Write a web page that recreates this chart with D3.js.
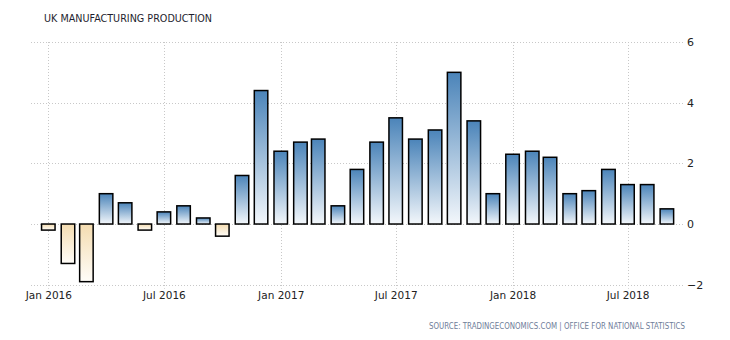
<!DOCTYPE html>
<html>
<head>
<meta charset="utf-8">
<script src="https://cdn.jsdelivr.net/npm/d3@7"></script>
<style>
  html, body { margin: 0; padding: 0; background: #fff; }
  svg { display: block; }
</style>
</head>
<body>
<svg id="chart" width="730" height="340"></svg>
<script>
// Monthly year-on-year change in UK manufacturing output (%)
const months = [
  "2016-01","2016-02","2016-03","2016-04","2016-05","2016-06",
  "2016-07","2016-08","2016-09","2016-10","2016-11","2016-12",
  "2017-01","2017-02","2017-03","2017-04","2017-05","2017-06",
  "2017-07","2017-08","2017-09","2017-10","2017-11","2017-12",
  "2018-01","2018-02","2018-03","2018-04","2018-05","2018-06",
  "2018-07","2018-08","2018-09"
];
const values = [
  -0.2, -1.3, -1.9, 1.0, 0.7, -0.2,
   0.4,  0.6,  0.2, -0.4, 1.6, 4.4,
   2.4,  2.7,  2.8, 0.6, 1.8, 2.7,
   3.5,  2.8,  3.1, 5.0, 3.4, 1.0,
   2.3,  2.4,  2.2, 1.0, 1.1, 1.8,
   1.3,  1.3,  0.5
];
const xTickLabels = ["Jan 2016","Jul 2016","Jan 2017","Jul 2017","Jan 2018","Jul 2018"];
const yTicks = [-2, 0, 2, 4, 6];
const title = "UK MANUFACTURING PRODUCTION";
const source = "SOURCE: TRADINGECONOMICS.COM | OFFICE FOR NATIONAL STATISTICS";

const parseMonth = d3.timeParse("%Y-%m");
const parseTick = d3.timeParse("%b %Y");
const data = months.map((m, i) => ({ date: parseMonth(m), value: values[i] }));

const svg = d3.select("#chart");
const plot = { left: 31, right: 683, top: 42, bottom: 284.7 };

const x = d3.scaleTime()
  .domain([parseMonth("2016-01"), parseMonth("2018-07")])
  .range([48.3, 627.5]);
const y = d3.scaleLinear().domain([-2, 6]).range([plot.bottom, plot.top]);

// gradients
const defs = svg.append("defs");
const gPos = defs.append("linearGradient").attr("id", "gPos")
  .attr("x1", 0).attr("y1", 0).attr("x2", 0).attr("y2", 1);
gPos.append("stop").attr("offset", "0%").attr("stop-color", "#4b84b9");
gPos.append("stop").attr("offset", "100%").attr("stop-color", "#f3f7fb");
const gNeg = defs.append("linearGradient").attr("id", "gNeg")
  .attr("x1", 0).attr("y1", 0).attr("x2", 0).attr("y2", 1);
gNeg.append("stop").attr("offset", "0%").attr("stop-color", "#f4dcb0");
gNeg.append("stop").attr("offset", "100%").attr("stop-color", "#fffdf9");

// horizontal grid + right axis labels
const yAxis = d3.axisRight(y).tickValues(yTicks).tickSize(0).tickPadding(4);
const gy = svg.append("g").attr("transform", `translate(${plot.right},0)`).call(yAxis);
gy.select(".domain").remove();
gy.selectAll("text")
  .attr("font-family", "'DejaVu Sans', Verdana, sans-serif")
  .attr("font-size", 11).attr("fill", "#222");

svg.append("g").selectAll("line").data(yTicks).join("line")
  .attr("x1", plot.left).attr("x2", plot.right)
  .attr("y1", d => Math.round(y(d)) + 0.5).attr("y2", d => Math.round(y(d)) + 0.5)
  .attr("stroke", "#c8c8c8").attr("stroke-dasharray", "1,2");

// vertical grid + bottom axis labels
const tickDates = xTickLabels.map(parseTick);
svg.append("g").selectAll("line").data(tickDates).join("line")
  .attr("x1", d => Math.round(x(d)) + 0.5).attr("x2", d => Math.round(x(d)) + 0.5)
  .attr("y1", plot.top).attr("y2", plot.bottom + 4)
  .attr("stroke", "#c8c8c8").attr("stroke-dasharray", "1,2");

const xAxis = d3.axisBottom(x).tickValues(tickDates)
  .tickFormat(d3.timeFormat("%b %Y")).tickSize(0).tickPadding(7);
const gx = svg.append("g").attr("transform", `translate(0,${plot.bottom})`).call(xAxis);
gx.select(".domain").remove();
gx.selectAll("text")
  .attr("font-family", "'DejaVu Sans', Verdana, sans-serif")
  .attr("font-size", 10.5).attr("fill", "#222");

// bars
const barW = 13.5;
svg.append("g").selectAll("rect").data(data).join("rect")
  .attr("x", d => x(d.date) - barW / 2)
  .attr("y", d => y(Math.max(0, d.value)))
  .attr("width", barW)
  .attr("height", d => Math.abs(y(d.value) - y(0)))
  .attr("fill", d => d.value >= 0 ? "url(#gPos)" : "url(#gNeg)")
  .attr("stroke", "#000").attr("stroke-width", 1.5);

// title and source
svg.append("text").attr("x", 44).attr("y", 21.5)
  .attr("font-family", "'DejaVu Sans', Verdana, sans-serif")
  .attr("font-size", 10.5).attr("fill", "#1e1e2e")
  .attr("textLength", 168).attr("lengthAdjust", "spacingAndGlyphs")
  .text(title);

svg.append("text").attr("x", 429).attr("y", 328.5)
  .attr("font-family", "'DejaVu Sans Condensed', 'Liberation Sans Narrow', 'DejaVu Sans', sans-serif")
  .attr("font-size", 8.5).attr("fill", "#6e7d99")
  .attr("textLength", 256).attr("lengthAdjust", "spacingAndGlyphs")
  .text(source);
</script>
</body>
</html>
